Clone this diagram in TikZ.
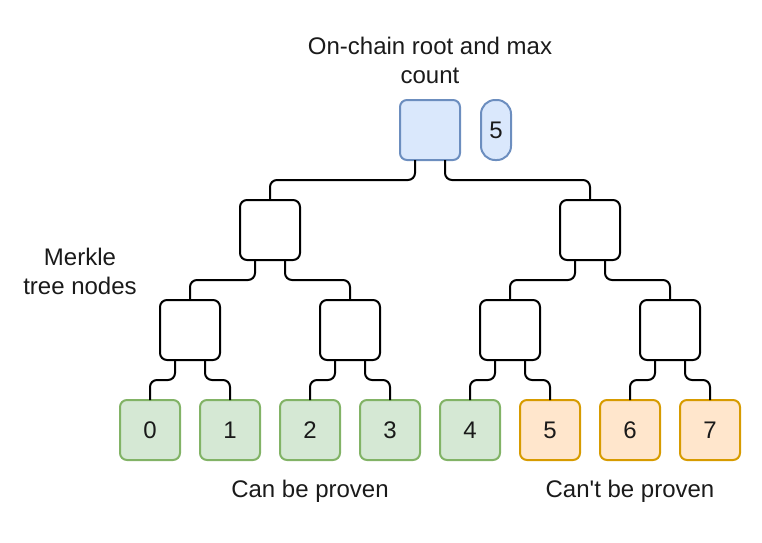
\documentclass[tikz,border=0pt]{standalone}
\usepackage{fontspec}
\setmainfont{Liberation Sans}[Ligatures=TeXOff]
\definecolor{bluefill}{HTML}{DAE8FC}
\definecolor{bluedraw}{HTML}{6C8EBF}
\definecolor{greenfill}{HTML}{D5E8D4}
\definecolor{greendraw}{HTML}{82B366}
\definecolor{orangefill}{HTML}{FFE6CC}
\definecolor{orangedraw}{HTML}{D79B00}
\definecolor{txt}{HTML}{1A1A1A}
\tikzset{
  box/.style={draw=black, fill=white, line width=2pt, rounded corners=7pt,
    minimum width=60pt, minimum height=60pt, inner sep=0pt, outer sep=0pt,
    font=\fontsize{24}{29}\selectfont, text=txt},
  rootbox/.style={box, draw=bluedraw, fill=bluefill},
  okleaf/.style={box, draw=greendraw, fill=greenfill},
  noleaf/.style={box, draw=orangedraw, fill=orangefill},
  pill/.style={box, draw=bluedraw, fill=bluefill, minimum width=30pt, rounded corners=14pt},
  label/.style={font=\fontsize{24}{29}\selectfont, text=txt, align=center, inner sep=0pt},
  edge/.style={draw=black, line width=2pt, rounded corners=7pt}
}
\begin{document}
\begin{tikzpicture}[x=1pt, y=-1pt]
\useasboundingbox (0,0) rectangle (762,542);
% nodes
\node[rootbox] (root) at (430,130) {};
\node[pill] (count) at (496,130) {5};
\node[box] (a) at (270,230) {};
\node[box] (b) at (590,230) {};
\node[box] (aa) at (190,330) {};
\node[box] (ab) at (350,330) {};
\node[box] (ba) at (510,330) {};
\node[box] (bb) at (670,330) {};
\node[okleaf] (l0) at (150,430) {0};
\node[okleaf] (l1) at (230,430) {1};
\node[okleaf] (l2) at (310,430) {2};
\node[okleaf] (l3) at (390,430) {3};
\node[okleaf] (l4) at (470,430) {4};
\node[noleaf] (l5) at (550,430) {5};
\node[noleaf] (l6) at (630,430) {6};
\node[noleaf] (l7) at (710,430) {7};
% labels
\node[label] (toplabel) at (430,60) {On-chain root and max\\count};
\node[label] (midlabel) at (80,271) {Merkle\\tree nodes};
\node[label] (okl) at (310,491) {Can be proven};
\node[label] (nol) at (630,491) {Can't be proven};
% edges
\foreach \p/\l/\r in {root/a/b, a/aa/ab, b/ba/bb, aa/l0/l1, ab/l2/l3, ba/l4/l5, bb/l6/l7}{
  \draw[edge] ([xshift=15pt]\p.south west) -- ++(0,20) -| (\l.north);
  \draw[edge] ([xshift=-15pt]\p.south east) -- ++(0,20) -| (\r.north);
}
\end{tikzpicture}
\end{document}
